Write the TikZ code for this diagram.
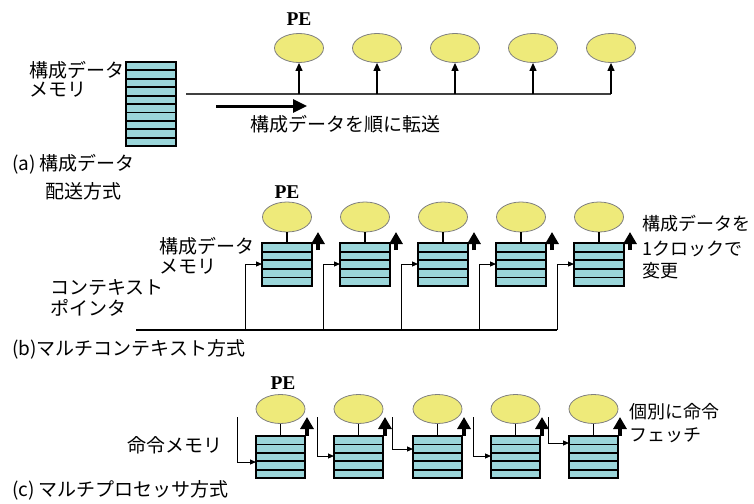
\documentclass[tikz,border=0pt]{standalone}
\usepackage{fontspec}
\newfontfamily\jp{Noto Sans CJK JP}
\newfontfamily\pefont{Liberation Serif}
\usetikzlibrary{shapes.geometric,arrows.meta,calc}
\definecolor{peyellow}{RGB}{238,234,122}
\definecolor{memcyan}{RGB}{155,214,218}
\tikzset{
 pe/.style={ellipse, draw=black!50, line width=0.8pt, fill=peyellow, minimum width=49pt, minimum height=29pt, inner sep=0pt},
 mem/.style={draw=black, line width=1.3pt, fill=memcyan, inner sep=0pt, outer sep=0pt, anchor=north west},
 lbl/.style={anchor=west, inner sep=0pt, font=\jp\fontsize{19}{21}\selectfont},
 rlbl/.style={lbl, font=\jp\fontsize{18}{20}\selectfont},
 pelbl/.style={inner sep=0pt, font=\pefont\bfseries\fontsize{19.5}{20}\selectfont},
 bus/.style={draw=black!75, line width=1.4pt},
 link/.style={draw=black, line width=1.2pt},
 upar/.style={-{Triangle[length=8pt,width=7pt]}, line width=1.2pt},
 bigar/.style={-{Triangle[length=14pt,width=13pt]}, line width=3pt},
 thickar/.style={-{Triangle[length=12pt,width=13pt]}, line width=3.8pt},
 smallar/.style={-{Triangle[length=6pt,width=5pt]}, line width=1pt},
}
\newcommand{\mkrows}[2]{%
  \pgfmathtruncatemacro\nrm{#2-1}%
  \foreach \r in {1,...,\nrm}{%
    \draw[line width=1.8pt] ($(#1.north west)!\r/#2!(#1.south west)$) -- ($(#1.north east)!\r/#2!(#1.south east)$);}%
}
\begin{document}
\begin{tikzpicture}[x=1pt,y=-1pt]
\useasboundingbox (0,0) rectangle (754,503);

% ---------------- (a) ----------------
\node[mem, minimum width=50pt, minimum height=84pt] (ma) at (126,62) {};
\mkrows{ma}{10}
\node[lbl] (ta1) at (29,70) {構成データ};
\node[lbl] (ta2) at (29,90) {メモリ};
\node[pelbl] (pea) at (299,19) {PE};
\foreach \i in {1,...,5}{
  \node[pe] (pa\i) at ({299+78*(\i-1)},48) {};
}
\coordinate (busaL) at (186,94);
\draw[bus] (busaL) -- (pa5 |- busaL);
\foreach \i in {1,...,5}{
  \draw[upar] (pa\i |- busaL) -- (pa\i.south);
}
\coordinate (bga1) at (216,106);
\coordinate (bga2) at (307,106);
\draw[bigar] (bga1) -- (bga2);
\node[lbl] (ta3) at (250,124) {構成データを順に転送};
\node[lbl] (ta4) at (12,164) {(a) 構成データ};
\node[lbl] (ta5) at (45,191) {配送方式};

% ---------------- (b) ----------------
\node[pelbl] (peb) at (287,192) {PE};
\foreach \i in {0,...,4}{
  \node[mem, minimum width=50pt, minimum height=43pt] (mb\i) at ({262+78*\i},243) {};
  \mkrows{mb\i}{5}
  \node[pe, minimum height=30pt] (pb\i) at ({287+78*\i},217) {};
  \draw[link] (pb\i.south) -- (mb\i.north);
  \draw[thickar] ([xshift=6pt,yshift=-7pt]mb\i.north east) -- ([xshift=6pt,yshift=11pt]mb\i.north east);
  \coordinate (cb\i) at ({245+78*\i},330);
  \draw[smallar] (cb\i) |- ($(mb\i.north west)+(0,21)$);
}
\coordinate (cbL) at (136,330);
\draw[link] (cbL) -- (cb4);
\node[lbl] (tb1) at (159,246) {構成データ};
\node[lbl] (tb2) at (159,267) {メモリ};
\node[lbl] (tb3) at (50,287) {コンテキスト};
\node[lbl] (tb4) at (50,308) {ポインタ};
\node[lbl] (tb5) at (12,349) {(b)マルチコンテキスト方式};
\node[rlbl] (tb6) at (642,224) {構成データを};
\node[rlbl] (tb7) at (642,249) {1クロックで};
\node[rlbl] (tb8) at (642,271) {変更};

% ---------------- (c) ----------------
\node[pelbl] (pec) at (283,383) {PE};
\foreach \i/\l/\fx/\fy in {0/256/237/462, 1/334/317/456, 2/413/392/449, 3/491/473/456, 4/569/548/443}{
  \node[mem, minimum width=49pt, minimum height=42pt] (mc\i) at (\l,436) {};
  \mkrows{mc\i}{5}
  \node[pe] (pc\i) at ({\l+24.5},409) {};
  \draw[link] (pc\i.south) -- (mc\i.north);
  \draw[thickar] ([xshift=2pt]mc\i.north east) -- ([xshift=2pt,yshift=19pt]mc\i.north east);
  \coordinate (fc\i) at (\fx,417);
  \coordinate (fe\i) at (\fx,\fy);
  \draw[smallar] (fc\i) -- (fe\i) -- (mc\i.west |- fe\i);
}
\node[lbl] (tc1) at (127,445) {命令メモリ};
\node[lbl] (tc2) at (12,490) {(c) マルチプロセッサ方式};
\node[rlbl] (tc3) at (629,412) {個別に命令};
\node[rlbl] (tc4) at (629,435) {フェッチ};
\end{tikzpicture}
\end{document}
